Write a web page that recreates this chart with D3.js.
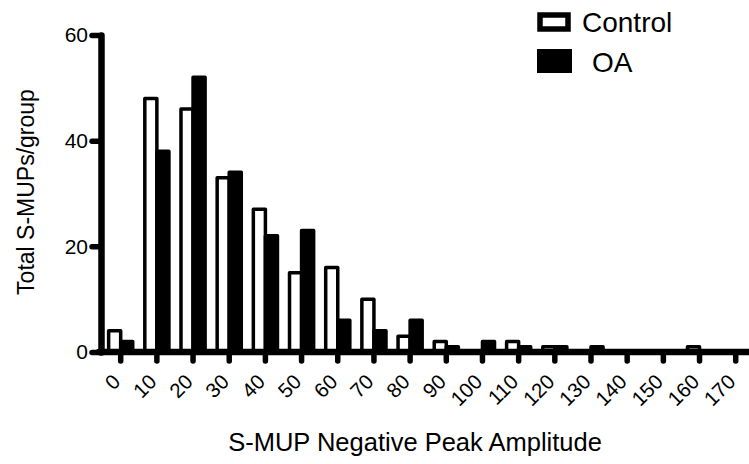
<!DOCTYPE html>
<html>
<head>
<meta charset="utf-8">
<script src="https://cdn.jsdelivr.net/npm/d3@7"></script>
<style>
  html, body { margin: 0; padding: 0; background: #fff; }
  svg { display: block; font-family: "Liberation Sans", Arial, Helvetica, sans-serif; }
  .axis path.domain { stroke: #000; stroke-width: 6.5px; stroke-linecap: round; }
  .axis .tick line { stroke: #000; stroke-width: 5.5px; stroke-linecap: round; }
</style>
</head>
<body>
<svg id="chart" width="749" height="464"></svg>
<script>
// ---- data ----
const categories = ["0","10","20","30","40","50","60","70","80","90","100","110","120","130","140","150","160","170"];
const seriesNames = ["Control", "OA"];
const controlValues = [4, 48, 46, 33, 27, 15, 16, 10, 3, 2, 0, 2, 1, 0, 0, 0, 1, 0];
const oaValues      = [2, 38, 52, 34, 22, 23, 6, 4, 6, 1, 2, 1, 1, 1, 0, 0, 0, 0];
const yTicks = [0, 20, 40, 60];
const yLabel = "Total S-MUPs/group";
const xLabel = "S-MUP Negative Peak Amplitude";

const svg = d3.select("#chart");

const x = d3.scaleBand().domain(categories).range([102.6, 753.8]).padding(0);
const xs = d3.scaleBand().domain(seriesNames).range([0, x.step()]).paddingInner(0).paddingOuter(0.5);
const y = d3.scaleLinear().domain([0, 60]).range([352, 35]);

const rows = categories.map((c, i) => ({ cat: c, vals: [
  { s: "Control", v: controlValues[i] },
  { s: "OA", v: oaValues[i] }
]}));

// bars
const g = svg.append("g");
rows.forEach(r => {
  r.vals.forEach(d => {
    if (d.v <= 0) return;
    g.append("rect")
      .attr("x", x(r.cat) + xs(d.s))
      .attr("y", y(d.v))
      .attr("width", xs.bandwidth())
      .attr("height", y(0) - y(d.v))
      .attr("fill", d.s === "Control" ? "#fff" : "#000")
      .attr("stroke", "#000")
      .attr("stroke-width", 3.5)
      .attr("stroke-linejoin", "round");
  });
});

// x axis
const xAxis = svg.append("g")
  .attr("class", "axis")
  .attr("transform", "translate(0,352)")
  .call(d3.axisBottom(x).tickSize(9).tickSizeOuter(0).tickFormat(() => ""));
xAxis.select(".domain").attr("d", "M99,0H753.8");

// rotated x tick labels
svg.append("g").selectAll("text")
  .data(categories)
  .join("text")
  .attr("transform", d => `translate(${x(d) + x.bandwidth() / 2 + 1},383) rotate(-45)`)
  .attr("text-anchor", "end")
  .attr("font-size", 20.5)
  .attr("fill", "#000")
  .text(d => d);

// y axis
const yAxis = svg.append("g")
  .attr("class", "axis")
  .attr("transform", "translate(101,0)")
  .call(d3.axisLeft(y).tickValues(yTicks).tickSize(9).tickPadding(4).tickSizeOuter(0));
yAxis.selectAll(".tick text").attr("font-size", 21).attr("font-family", "Liberation Sans, Arial, sans-serif").attr("fill", "#000");

// axis titles
svg.append("text")
  .attr("transform", "translate(34,192) rotate(-90)")
  .attr("text-anchor", "middle")
  .attr("font-size", 23)
  .text(yLabel);

svg.append("text")
  .attr("x", 415).attr("y", 451)
  .attr("text-anchor", "middle")
  .attr("font-size", 25.5)
  .text(xLabel);

// legend
const legend = svg.append("g");
legend.append("rect").attr("x", 540).attr("y", 15).attr("width", 28).attr("height", 14)
  .attr("fill", "#fff").attr("stroke", "#000").attr("stroke-width", 5.5);
legend.append("rect").attr("x", 537).attr("y", 49).attr("width", 35).attr("height", 24)
  .attr("fill", "#000");
legend.append("text").attr("x", 582).attr("y", 32).attr("font-size", 28).text(seriesNames[0]);
legend.append("text").attr("x", 592).attr("y", 72).attr("font-size", 28).text(seriesNames[1]);
</script>
</body>
</html>
